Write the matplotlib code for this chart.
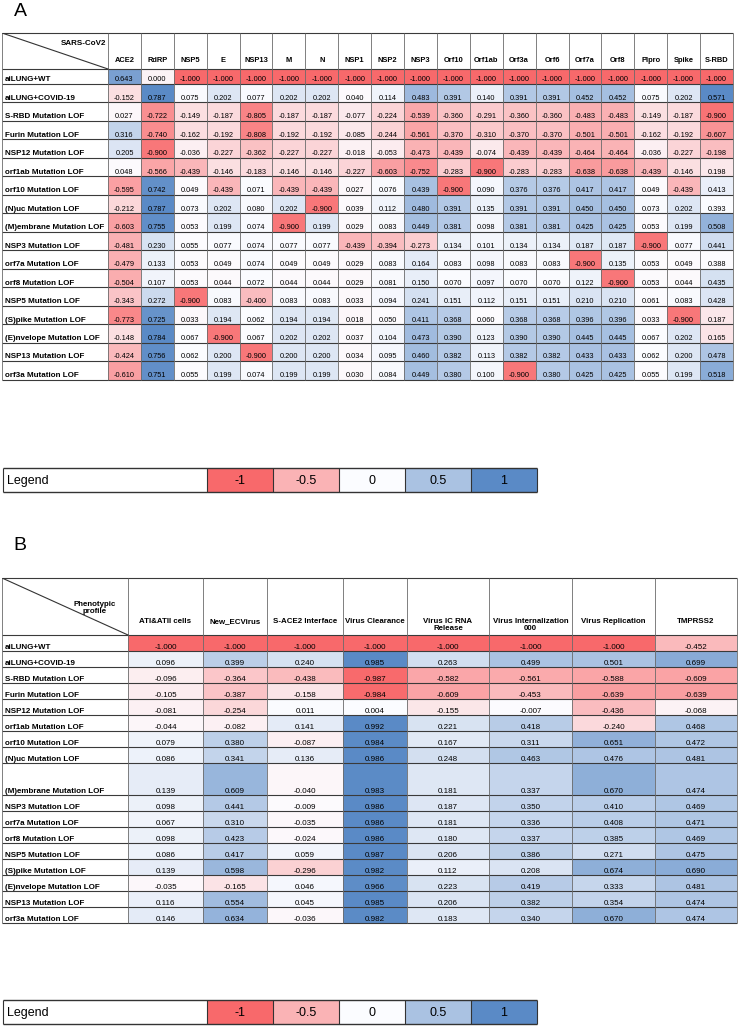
import numpy as np
import matplotlib
matplotlib.use("Agg")
import matplotlib.pyplot as plt
from matplotlib.colors import LinearSegmentedColormap, TwoSlopeNorm

plt.rcParams['font.family'] = ['Liberation Sans', 'DejaVu Sans']

# ---------------- data ----------------
row_labels = ["aiLUNG+WT", "aiLUNG+COVID-19", "S-RBD Mutation LOF", "Furin Mutation LOF",
              "NSP12 Mutation LOF", "orf1ab Mutation LOF", "orf10 Mutation LOF",
              "(N)uc Mutation LOF", "(M)embrane Mutation LOF", "NSP3 Mutation LOF",
              "orf7a Mutation LOF", "orf8 Mutation LOF", "NSP5 Mutation LOF",
              "(S)pike Mutation LOF", "(E)nvelope Mutation LOF", "NSP13 Mutation LOF",
              "orf3a Mutation LOF"]

a_columns = ["ACE2", "RdRP", "NSP5", "E", "NSP13", "M", "N", "NSP1", "NSP2", "NSP3",
             "Orf10", "Orf1ab", "Orf3a", "Orf6", "Orf7a", "Orf8", "Plpro", "Spike", "S-RBD"]

a_wt       = [0.643, 0.000, -1, -1, -1, -1, -1, -1, -1, -1, -1, -1, -1, -1, -1, -1, -1, -1, -1]
a_covid    = [-0.152, 0.787, 0.075, 0.202, 0.077, 0.202, 0.202, 0.040, 0.114, 0.483, 0.391, 0.140, 0.391, 0.391, 0.452, 0.452, 0.075, 0.202, 0.571]
a_srbd     = [0.027, -0.722, -0.149, -0.187, -0.805, -0.187, -0.187, -0.077, -0.224, -0.539, -0.360, -0.291, -0.360, -0.360, -0.483, -0.483, -0.149, -0.187, -0.900]
a_furin    = [0.316, -0.740, -0.162, -0.192, -0.808, -0.192, -0.192, -0.085, -0.244, -0.561, -0.370, -0.310, -0.370, -0.370, -0.501, -0.501, -0.162, -0.192, -0.607]
a_nsp12    = [0.205, -0.900, -0.036, -0.227, -0.362, -0.227, -0.227, -0.018, -0.053, -0.473, -0.439, -0.074, -0.439, -0.439, -0.464, -0.464, -0.036, -0.227, -0.198]
a_orf1ab   = [0.048, -0.566, -0.439, -0.146, -0.183, -0.146, -0.146, -0.227, -0.603, -0.752, -0.283, -0.900, -0.283, -0.283, -0.638, -0.638, -0.439, -0.146, 0.198]
a_orf10    = [-0.595, 0.742, 0.049, -0.439, 0.071, -0.439, -0.439, 0.027, 0.076, 0.439, -0.900, 0.090, 0.376, 0.376, 0.417, 0.417, 0.049, -0.439, 0.413]
a_nuc      = [-0.212, 0.787, 0.073, 0.202, 0.080, 0.202, -0.900, 0.039, 0.112, 0.480, 0.391, 0.135, 0.391, 0.391, 0.450, 0.450, 0.073, 0.202, 0.393]
a_membrane = [-0.603, 0.755, 0.053, 0.199, 0.074, -0.900, 0.199, 0.029, 0.083, 0.449, 0.381, 0.098, 0.381, 0.381, 0.425, 0.425, 0.053, 0.199, 0.508]
a_nsp3     = [-0.481, 0.230, 0.055, 0.077, 0.074, 0.077, 0.077, -0.439, -0.394, -0.273, 0.134, 0.101, 0.134, 0.134, 0.187, 0.187, -0.900, 0.077, 0.441]
a_orf7a    = [-0.479, 0.133, 0.053, 0.049, 0.074, 0.049, 0.049, 0.029, 0.083, 0.164, 0.083, 0.098, 0.083, 0.083, -0.900, 0.135, 0.053, 0.049, 0.388]
a_orf8     = [-0.504, 0.107, 0.053, 0.044, 0.072, 0.044, 0.044, 0.029, 0.081, 0.150, 0.070, 0.097, 0.070, 0.070, 0.122, -0.900, 0.053, 0.044, 0.435]
a_nsp5     = [-0.343, 0.272, -0.900, 0.083, -0.400, 0.083, 0.083, 0.033, 0.094, 0.241, 0.151, 0.112, 0.151, 0.151, 0.210, 0.210, 0.061, 0.083, 0.428]
a_spike    = [-0.773, 0.725, 0.033, 0.194, 0.062, 0.194, 0.194, 0.018, 0.050, 0.411, 0.368, 0.060, 0.368, 0.368, 0.396, 0.396, 0.033, -0.900, 0.187]
a_envelope = [-0.148, 0.784, 0.067, -0.900, 0.067, 0.202, 0.202, 0.037, 0.104, 0.473, 0.390, 0.123, 0.390, 0.390, 0.445, 0.445, 0.067, 0.202, 0.165]
a_nsp13    = [-0.424, 0.756, 0.062, 0.200, -0.900, 0.200, 0.200, 0.034, 0.095, 0.460, 0.382, 0.113, 0.382, 0.382, 0.433, 0.433, 0.062, 0.200, 0.478]
a_orf3a    = [-0.610, 0.751, 0.055, 0.199, 0.074, 0.199, 0.199, 0.030, 0.084, 0.449, 0.380, 0.100, -0.900, 0.380, 0.425, 0.425, 0.055, 0.199, 0.518]

b_columns = ["ATI&ATII cells", "New_ECVirus", "S-ACE2 Interface", "Virus Clearance",
             "Virus IC RNA\nRelease", "Virus Internalization\n000", "Virus Replication", "TMPRSS2"]

b_wt       = [-1.000, -1.000, -1.000, -1.000, -1.000, -1.000, -1.000, -0.452]
b_covid    = [0.096, 0.399, 0.240, 0.985, 0.263, 0.499, 0.501, 0.699]
b_srbd     = [-0.096, -0.364, -0.438, -0.987, -0.582, -0.561, -0.588, -0.609]
b_furin    = [-0.105, -0.387, -0.158, -0.984, -0.609, -0.453, -0.639, -0.639]
b_nsp12    = [-0.081, -0.254, 0.011, 0.004, -0.155, -0.007, -0.436, -0.068]
b_orf1ab   = [-0.044, -0.082, 0.141, 0.992, 0.221, 0.418, -0.240, 0.468]
b_orf10    = [0.079, 0.380, -0.087, 0.984, 0.167, 0.311, 0.651, 0.472]
b_nuc      = [0.086, 0.341, 0.136, 0.986, 0.248, 0.463, 0.476, 0.481]
b_membrane = [0.139, 0.609, -0.040, 0.983, 0.181, 0.337, 0.670, 0.474]
b_nsp3     = [0.098, 0.441, -0.009, 0.986, 0.187, 0.350, 0.410, 0.469]
b_orf7a    = [0.067, 0.310, -0.035, 0.986, 0.181, 0.336, 0.408, 0.471]
b_orf8     = [0.098, 0.423, -0.024, 0.986, 0.180, 0.337, 0.385, 0.469]
b_nsp5     = [0.086, 0.417, 0.059, 0.987, 0.206, 0.386, 0.271, 0.475]
b_spike    = [0.139, 0.598, -0.296, 0.982, 0.112, 0.208, 0.674, 0.690]
b_envelope = [-0.035, -0.165, 0.046, 0.966, 0.223, 0.419, 0.333, 0.481]
b_nsp13    = [0.116, 0.554, 0.045, 0.985, 0.206, 0.382, 0.354, 0.474]
b_orf3a    = [0.146, 0.634, -0.036, 0.982, 0.183, 0.340, 0.670, 0.474]

legend_levels = [-1, -0.5, 0, 0.5, 1]
legend_labels = ["-1", "-0.5", "0", "0.5", "1"]

a_vals = np.array([a_wt, a_covid, a_srbd, a_furin, a_nsp12, a_orf1ab, a_orf10, a_nuc,
                   a_membrane, a_nsp3, a_orf7a, a_orf8, a_nsp5, a_spike, a_envelope,
                   a_nsp13, a_orf3a], dtype=float)
b_vals = np.array([b_wt, b_covid, b_srbd, b_furin, b_nsp12, b_orf1ab, b_orf10, b_nuc,
                   b_membrane, b_nsp3, b_orf7a, b_orf8, b_nsp5, b_spike, b_envelope,
                   b_nsp13, b_orf3a], dtype=float)

# ---------------- layout ----------------
W, H = 740, 1032
fig = plt.figure(figsize=(W / 100, H / 100), dpi=100)
fig.patch.set_facecolor("white")

cmap = LinearSegmentedColormap.from_list("excel3", ["#F8696B", "#FCFCFF", "#5A8AC6"])
HLINE = "#3a3a3a"
VLINE = "#6a6a6a"


def add_px_axes(x0, y0, x1, y1):
    ax = fig.add_axes([x0 / W, 1 - y1 / H, (x1 - x0) / W, (y1 - y0) / H])
    ax.set_xlim(0, x1 - x0)
    ax.set_ylim(y1 - y0, 0)
    ax.axis("off")
    return ax


def grid(ax, xe, ye):
    ax.hlines(ye, xe[0], xe[-1], colors=HLINE, linewidth=0.8, clip_on=False, zorder=3)
    ax.vlines(xe, ye[0], ye[-1], colors=VLINE, linewidth=0.6, clip_on=False, zorder=3)
    ax.plot([xe[0], xe[1]], [ye[0], ye[1]], color="#333333", linewidth=0.8, zorder=3)


# ---------- Panel A ----------
fig.text(20 / W, 1 - 11 / H, "A", fontsize=14, ha="center", va="center")

axA = add_px_axes(2, 33, 733, 380)
a_label_w = 106
a_col_w = (731 - a_label_w) / len(a_columns)
xeA = np.concatenate([[0], a_label_w + a_col_w * np.arange(len(a_columns) + 1)])
a_row_h = [14.5] + [18.5] * (len(row_labels) - 1)
yeA = np.concatenate([[0], 36 + np.concatenate([[0], np.cumsum(a_row_h)])])

main = a_vals[:, :-1]
norm_main = TwoSlopeNorm(vmin=main.min(), vcenter=np.percentile(main, 50), vmax=main.max())
last = a_vals[:, -1:]
norm_last = TwoSlopeNorm(vmin=last.min(), vcenter=np.percentile(last, 50), vmax=last.max())
axA.pcolormesh(xeA[1:-1], yeA[1:], main, cmap=cmap, norm=norm_main, shading="flat")
axA.pcolormesh(xeA[-2:], yeA[1:], last, cmap=cmap, norm=norm_last, shading="flat")
grid(axA, xeA, yeA)

for j, c in enumerate(a_columns):
    axA.text((xeA[j + 1] + xeA[j + 2]) / 2, 27, c, ha="center", va="center",
             fontsize=5.4, fontweight="bold")
axA.text(104, 10, "SARS-CoV2", ha="right", va="center", fontsize=5.8, fontweight="bold")
for i, r in enumerate(row_labels):
    yb = yeA[i + 2] - 2.5
    axA.text(3, yb, r, ha="left", va="baseline", fontsize=5.8, fontweight="bold")
    for j in range(len(a_columns)):
        axA.text((xeA[j + 1] + xeA[j + 2]) / 2, yb, f"{a_vals[i, j]:.3f}",
                 ha="center", va="baseline", fontsize=5.3)


def draw_legend(y0, y1):
    ax = add_px_axes(3, y0, 537, y1)
    h = y1 - y0
    lx = np.concatenate([[0], 204 + 66 * np.arange(len(legend_levels) + 1)])
    ax.pcolormesh(lx[1:], [0, h], np.array([legend_levels], dtype=float), cmap=cmap,
                  norm=TwoSlopeNorm(vmin=-1, vcenter=0, vmax=1), shading="flat")
    ax.hlines([0, h], lx[0], lx[-1], colors="#333333", linewidth=1.0, clip_on=False)
    ax.vlines(lx, 0, h, colors="#333333", linewidth=0.8, clip_on=False)
    ax.text(4, h / 2 + 1, "Legend", ha="left", va="center", fontsize=9)
    for k, lab in enumerate(legend_labels):
        ax.text((lx[k + 1] + lx[k + 2]) / 2, h / 2 + 1, lab, ha="center", va="center", fontsize=9)


draw_legend(468, 492)

# ---------- Panel B ----------
fig.text(20 / W, 1 - 546 / H, "B", fontsize=14, ha="center", va="center")

axB = add_px_axes(2, 578, 737, 923)
xeB = np.array([0, 126, 201, 265, 341, 405, 487, 570, 653, 735], dtype=float)
b_row_h = [16] * 8 + [32] + [16] * 8
yeB = np.concatenate([[0], 57 + np.concatenate([[0], np.cumsum(b_row_h)])])

norm_b = TwoSlopeNorm(vmin=b_vals.min(), vcenter=0.0, vmax=b_vals.max())
axB.pcolormesh(xeB[1:], yeB[1:], b_vals, cmap=cmap, norm=norm_b, shading="flat")
grid(axB, xeB, yeB)

for j, c in enumerate(b_columns):
    axB.text((xeB[j + 1] + xeB[j + 2]) / 2, 40, c, ha="center", va="top",
             fontsize=5.7, fontweight="bold", linespacing=1.05)
axB.text(93, 30, "Phenotypic\nprofile", ha="center", va="center", fontsize=5.7,
         fontweight="bold", linespacing=1.0)
for i, r in enumerate(row_labels):
    yb = yeB[i + 2] - 2.0
    axB.text(3, yb, r, ha="left", va="baseline", fontsize=5.8, fontweight="bold")
    for j in range(len(b_columns)):
        axB.text((xeB[j + 1] + xeB[j + 2]) / 2, yb, f"{b_vals[i, j]:.3f}",
                 ha="center", va="baseline", fontsize=5.8)

draw_legend(1000, 1024)

fig.savefig("out.png", dpi=100, facecolor="white")
